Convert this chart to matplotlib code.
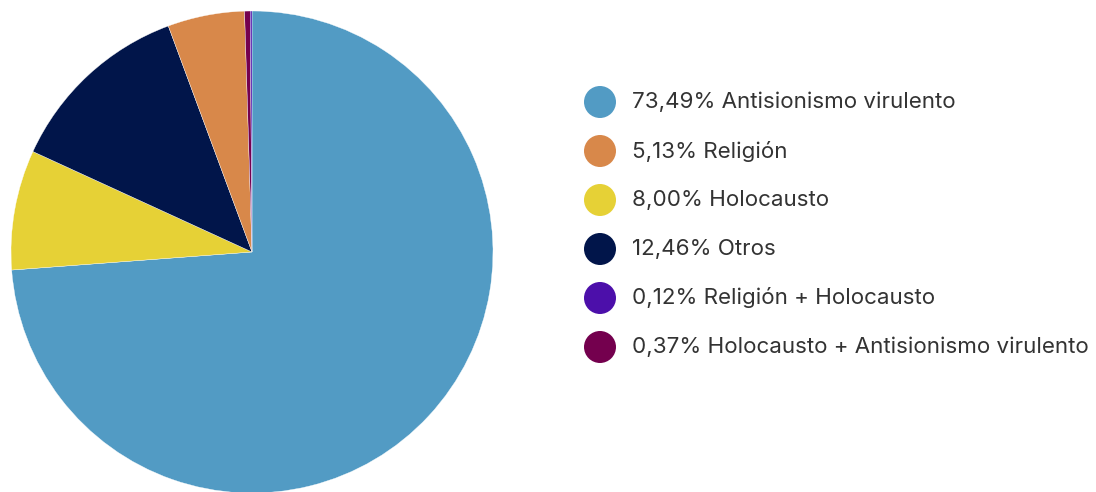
import matplotlib
matplotlib.use('Agg')
import matplotlib.pyplot as plt

plt.rcParams['font.family'] = ['Inter', 'DejaVu Sans']

# Data (pie order, clockwise from 12 o'clock)
pie_labels = ['Antisionismo virulento', 'Holocausto', 'Otros', 'Religión',
              'Holocausto + Antisionismo virulento', 'Religión + Holocausto']
pie_values = [73.49, 8.00, 12.46, 5.13, 0.37, 0.12]
pie_colors = ['#529BC4', '#E6D136', '#01154A', '#D8884A', '#74004E', '#4C0FAA']

# Legend order
legend_labels = ['73,49% Antisionismo virulento', '5,13% Religión', '8,00% Holocausto',
                 '12,46% Otros', '0,12% Religión + Holocausto',
                 '0,37% Holocausto + Antisionismo virulento']
legend_colors = ['#529BC4', '#D8884A', '#E6D136', '#01154A', '#4C0FAA', '#74004E']

W, H = 1096, 492
fig = plt.figure(figsize=(W / 100, H / 100), dpi=100)

# pie axes: center (252, 252) px from top, radius 241 px
cx, cy, r = 252, 252, 241
ax = fig.add_axes([(cx - r) / W, (H - cy - r) / H, 2 * r / W, 2 * r / H])
ax.pie(pie_values, colors=pie_colors, startangle=90, counterclock=False,
       radius=1, wedgeprops=dict(linewidth=0.25, edgecolor='white'))
ax.set_xlim(-1, 1)
ax.set_ylim(-1, 1)
ax.set_aspect('equal')
for p in ax.patches:
    p.set_clip_on(False)

# legend drawn in pixel coordinates
lax = fig.add_axes([0, 0, 1, 1])
lax.set_xlim(0, W)
lax.set_ylim(H, 0)
lax.axis('off')
y0, dy = 102, 49
for i, (lab, col) in enumerate(zip(legend_labels, legend_colors)):
    y = y0 + i * dy
    lax.scatter([600], [y], s=(32 * 0.72) ** 2, color=col, edgecolor='none')
    lax.text(632, y, lab, fontsize=16.1, color='#333333', va='center', ha='left')

fig.savefig('out.png', dpi=100)
